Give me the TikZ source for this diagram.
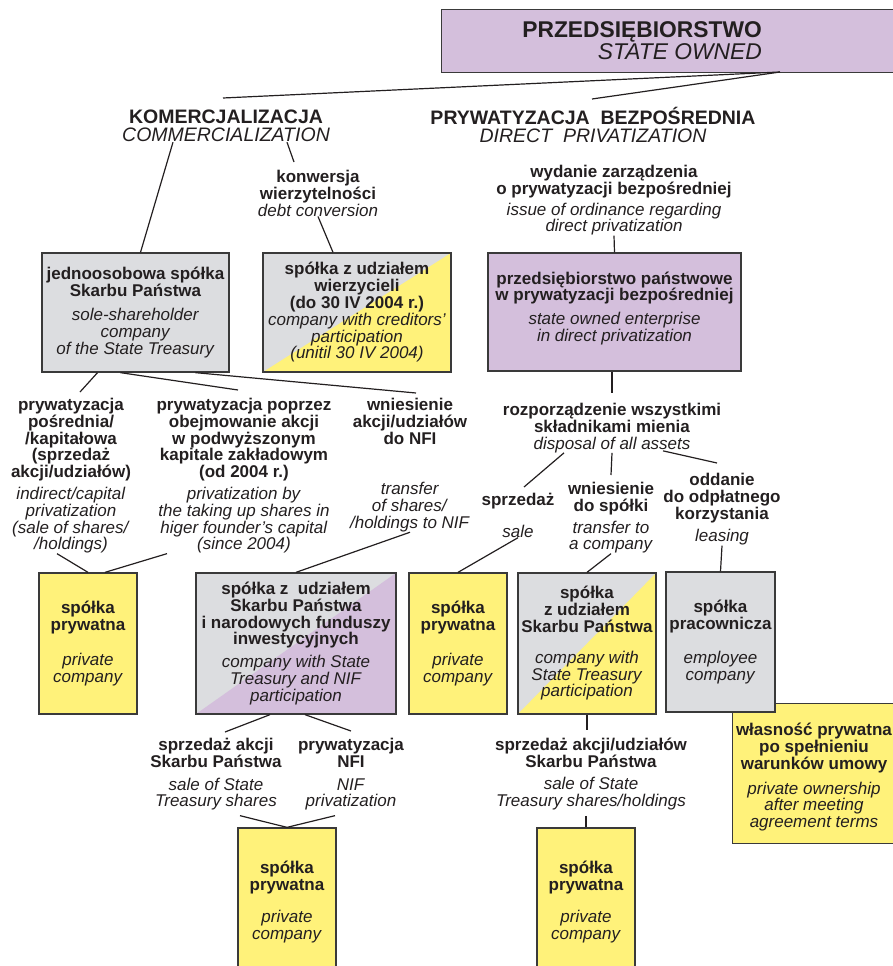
\documentclass[tikz,border=0pt]{standalone}
\usepackage{fontspec}
\setmainfont{Liberation Sans}
\usetikzlibrary{positioning}
\definecolor{ink}{HTML}{231F20}
\definecolor{lav}{HTML}{D4BFDC}
\definecolor{yel}{HTML}{FFF27A}
\definecolor{gry}{HTML}{DCDDE0}
\definecolor{rim}{HTML}{3A3A3A}
\newcommand{\PL}[1]{\textbf{#1}}
\newcommand{\EN}[1]{\textit{#1}}
\tikzstyle{box}=[draw=rim,line width=1.3pt,inner sep=0pt,align=center,text=ink,font=\fontsize{17}{16.8}\selectfont]
\tikzstyle{txt}=[inner sep=0pt,align=center,text=ink,font=\fontsize{17}{16.8}\selectfont,anchor=north]
\tikzstyle{head}=[inner sep=0pt,align=center,text=ink,font=\fontsize{19.5}{18}\selectfont,anchor=north]
\tikzstyle{link}=[draw=ink,line width=1.2pt]
\tikzset{split/.style={fill=gry,path picture={
  \fill[#1] (path picture bounding box.south west) -- (path picture bounding box.north east)
    -- (path picture bounding box.south east) -- cycle;}}}

\begin{document}
\begin{tikzpicture}[x=1pt,y=-1pt]
\useasboundingbox (0,0) rectangle (892,966);

% state owned enterprise
\node[box,fill=lav,minimum width=560pt,minimum height=63pt,anchor=north west] (firm) at (441,9) {};
\node[head,font=\fontsize{22.8}{22}\selectfont,align=right,anchor=north east] (firmtxt) at (762,21)
  {\textbf{PRZEDSIĘBIORSTWO}\\\textit{STATE OWNED}};
\coordinate (fork) at (780,72);

% two ways
\node[head] (komtxt) at (226,110) {\textbf{KOMERCJALIZACJA}\\\textit{COMMERCIALIZATION}};
\node[head] (prytxt) at (593,107) {\textbf{PRYWATYZACJA\ \ BEZPOŚREDNIA}\\\textit{DIRECT\ \ PRIVATIZATION}};

\node[txt] (debt) at (318,170) {\PL{konwersja}\\\PL{wierzytelności}\\\EN{debt conversion}};
\node[txt] (ordin) at (614,165) {\PL{wydanie zarządzenia}\\\PL{o prywatyzacji bezpośredniej}\\[4pt]
  \EN{issue of ordinance regarding}\\\EN{direct privatization}};

\node[box,fill=gry,minimum width=187pt,minimum height=119pt] (sole) at (135.5,312.5)
  {\PL{jednoosobowa spółka}\\\PL{Skarbu Państwa}\\[7pt]\EN{sole-shareholder}\\\EN{company}\\\EN{of the State Treasury}};
\node[box,split=yel,minimum width=188pt,minimum height=119pt] (cred) at (357,312.5)
  {\PL{spółka z udziałem}\\\PL{wierzycieli}\\\PL{(do 30 IV 2004 r.)}\\\EN{company with creditors'}\\\EN{participation}\\\EN{(unitil 30 IV 2004)}};
\node[box,fill=lav,minimum width=253pt,minimum height=118pt] (ppbox) at (614.5,312)
  {\PL{przedsiębiorstwo państwowe}\\\PL{w prywatyzacji bezpośredniej}\\[7pt]\EN{state owned enterprise}\\\EN{in direct privatization}\\[-6pt]\mbox{}};

% commercialization branches
\node[txt] (ipriv) at (71,398) {\PL{prywatyzacja}\\\PL{pośrednia/}\\\PL{/kapitałowa}\\\PL{(sprzedaż}\\\PL{akcji/udziałów)}\\[5pt]
  \EN{indirect/capital}\\\EN{privatization}\\\EN{(sale of shares/}\\\EN{/holdings)}};
\node[txt] (upriv) at (244,398) {\PL{prywatyzacja poprzez}\\\PL{obejmowanie akcji}\\\PL{w podwyższonym}\\\PL{kapitale zakładowym}\\\PL{(od 2004 r.)}\\[5pt]
  \EN{privatization by}\\\EN{the taking up shares in}\\\EN{higer founder's capital}\\\EN{(since 2004)}};
\node[txt] (nfitxt) at (410,398) {\PL{wniesienie}\\\PL{akcji/udziałów}\\\PL{do NFI}\\[34pt]
  \EN{transfer}\\\EN{of shares/}\\\EN{/holdings to NIF}};

% direct privatization branches
\node[txt] (disp) at (612,403) {\PL{rozporządzenie wszystkimi}\\\PL{składnikami mienia}\\\EN{disposal of all assets}};
\node[txt] (sale) at (518,493) {\PL{sprzedaż}\\[15pt]\EN{sale}};
\node[txt] (wns) at (611,482) {\PL{wniesienie}\\\PL{do spółki}\\[5pt]\EN{transfer to}\\\EN{a company}};
\node[txt] (odd) at (722,473) {\PL{oddanie}\\\PL{do odpłatnego}\\\PL{korzystania}\\[6pt]\EN{leasing}};

% companies
\node[box,fill=yel,minimum width=98pt,minimum height=141pt] (pcA) at (88,643.5)
  {\PL{spółka}\\\PL{prywatna}\\[18pt]\EN{private}\\\EN{company}};
\node[box,split=lav,minimum width=200pt,minimum height=141pt] (nfi) at (296,643.5)
  {\PL{spółka z\ \ udziałem}\\\PL{Skarbu Państwa}\\\PL{i narodowych funduszy}\\\PL{inwestycyjnych}\\[6pt]
   \EN{company with State}\\\EN{Treasury and NIF}\\\EN{participation}};
\node[box,fill=yel,minimum width=98pt,minimum height=141pt] (pcC) at (458,643.5)
  {\PL{spółka}\\\PL{prywatna}\\[18pt]\EN{private}\\\EN{company}};
\node[box,split=yel,minimum width=138pt,minimum height=141pt] (stp) at (587,643.5)
  {\PL{spółka}\\\PL{z udziałem}\\\PL{Skarbu Państwa}\\[14pt]\EN{company with}\\\EN{State Treasury}\\\EN{participation}};
\node[box,fill=yel,minimum width=260pt,minimum height=140pt,anchor=north west] (own) at (732,703) {};
\node[txt] (owntxt) at (814,723)
  {\PL{własność prywatna}\\\PL{po spełnieniu}\\\PL{warunków umowy}\\[8pt]\EN{private ownership}\\\EN{after meeting}\\\EN{agreement terms}};
\node[box,fill=gry,minimum width=109pt,minimum height=140pt] (emp) at (720.5,642)
  {\PL{spółka}\\\PL{pracownicza}\\[18pt]\EN{employee}\\\EN{company}};

% last step
\node[txt] (sst) at (216,738) {\PL{sprzedaż akcji}\\\PL{Skarbu Państwa}\\[6pt]\EN{sale of State}\\\EN{Treasury shares}};
\node[txt] (nfp) at (351,738) {\PL{prywatyzacja}\\\PL{NFI}\\[6pt]\EN{NIF}\\\EN{privatization}};
\node[txt] (ssh) at (591,738) {\PL{sprzedaż akcji/udziałów}\\\PL{Skarbu Państwa}\\[5pt]\EN{sale of State}\\\EN{Treasury shares/holdings}};

\node[box,fill=yel,minimum width=98pt,minimum height=148pt] (pcG) at (287,902)
  {\PL{spółka}\\\PL{prywatna}\\[16pt]\EN{private}\\\EN{company}};
\node[box,fill=yel,minimum width=98pt,minimum height=148pt] (pcH) at (586,902)
  {\PL{spółka}\\\PL{prywatna}\\[16pt]\EN{private}\\\EN{company}};

% connectors
\draw[link] (fork) -- ([xshift=-3pt,yshift=12pt]komtxt.north);
\draw[link] (fork) -- ([xshift=-1pt,yshift=8pt]prytxt.north);
\draw[link] ([xshift=-53pt]komtxt.south) -- ([xshift=5pt]sole.north);
\draw[link] ([xshift=61pt]komtxt.south) -- ([xshift=-24pt,yshift=8pt]debt.north);
\draw[link] (debt.south) -- ([xshift=-24pt]cred.north);
\draw[link] (ordin.south) -- (ppbox.north);
\draw[link] (ppbox.south -| disp.north) -- ([yshift=10pt]disp.north);
\draw[link] ([xshift=-38pt]sole.south) -- ([xshift=9pt,yshift=6pt]ipriv.north);
\draw[link] ([xshift=-15pt]sole.south) -- ([xshift=-6pt,yshift=8pt]upriv.north);
\draw[link] ([xshift=60pt]sole.south) -- ([xshift=6pt,yshift=5pt]nfitxt.north);
\draw[link] ([xshift=-14pt]ipriv.south) -- (pcA.north);
\draw[link] ([xshift=-77pt]upriv.south) -- ([xshift=17pt]pcA.north);
\draw[link] (nfitxt.south) -- (nfi.north);
\draw[link] ([xshift=-48pt]disp.south) -- ([xshift=6pt,yshift=6pt]sale.north);
\draw[link] (disp.south) -- ([yshift=7pt]wns.north);
\draw[link] ([xshift=51pt,yshift=2pt]disp.south) -- ([xshift=-5pt,yshift=10pt]odd.north);
\draw[link] (sale.south) -- (pcC.north);
\draw[link] (wns.south) -- (stp.north);
\draw[link] (odd.south) -- (emp.north);
\draw[link] ([xshift=-26pt]nfi.south) -- ([xshift=9pt,yshift=6pt]sst.north);
\draw[link] ([xshift=9pt]nfi.south) -- ([yshift=7pt]nfp.north);
\draw[link] ([xshift=24pt,yshift=-5pt]sst.south) -- (pcG.north);
\draw[link] ([xshift=-16pt,yshift=-5pt]nfp.south) -- (pcG.north);
\draw[link] (stp.south) -- ([yshift=8pt]stp.south |- ssh.north);
\draw[link] ([yshift=-6pt]pcH.north |- ssh.south) -- (pcH.north);
\end{tikzpicture}
\end{document}
